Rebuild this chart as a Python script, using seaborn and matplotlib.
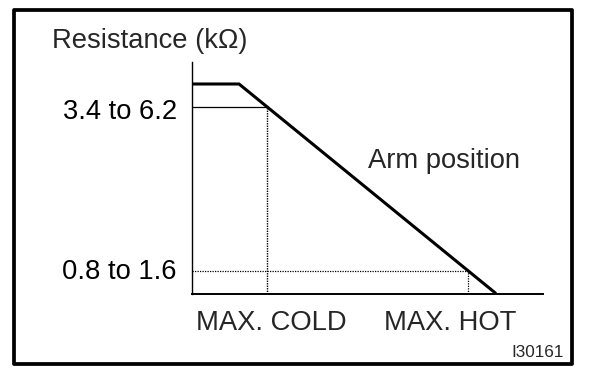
import matplotlib
matplotlib.use("Agg")
import numpy as np
import pandas as pd
import matplotlib.pyplot as plt
import seaborn as sns
from matplotlib.transforms import ScaledTranslation
from matplotlib.patches import Rectangle

# ---- data (normalised units) ----
arm_position = [0.0, 13.4, 86.6]          # arm position (0..100 along x axis)
resistance = [90.5, 90.5, 0.0]            # resistance (0..100 along y axis)
ref_positions = [21.4, 78.6]              # MAX. COLD, MAX. HOT
ref_resistance = [80.6, 9.9]              # resistance at those positions
ref_labels = ["3.4 to 6.2", "0.8 to 1.6"]
x_labels = ["MAX. COLD", "MAX. HOT"]
y_title = "Resistance (kΩ)"
curve_label = "Arm position"
figure_id = "I30161"

W, H = 608, 382
sns.set_style("white")
plt.rcParams["font.family"] = ["Liberation Sans", "DejaVu Sans"]

fig = plt.figure(figsize=(W / 100, H / 100), dpi=100)
ax = fig.add_axes([192 / W, 1 - 293.5 / H, (543 - 192) / W, (293.5 - 62) / H])
ax.set_xlim(0, 100)
ax.set_ylim(0, 100)

df = pd.DataFrame({"pos": arm_position, "res": resistance})
sns.lineplot(data=df, x="pos", y="res", ax=ax, color="black", lw=2.2,
             solid_joinstyle="miter", solid_capstyle="butt")

# reference lines
ax.hlines(ref_resistance[0], 0, ref_positions[0], color="black", lw=0.9)
ax.vlines(ref_positions[0], 0, ref_resistance[0], color="black", lw=1.0,
          linestyles=(0, (1, 0.8)))
ax.hlines(ref_resistance[1], 0, ref_positions[1], color="black", lw=0.9,
          linestyles=(0, (1, 1)))
ax.vlines(ref_positions[1], 0, ref_resistance[1], color="black", lw=0.9,
          linestyles=(0, (1, 1)))

# axes styling
for s in ["top", "right"]:
    ax.spines[s].set_visible(False)
ax.spines["left"].set_linewidth(1.0)
ax.spines["bottom"].set_linewidth(1.4)
ax.spines["left"].set_color("black")
ax.spines["bottom"].set_color("black")
ax.set_xlabel("")
ax.set_ylabel("")
ax.set_xticks([])
ax.set_yticks(ref_resistance, ref_labels, fontsize=19.7)
ax.tick_params(axis="y", length=0, pad=10.8, colors="black")
offsets = [-12.0, -8.5]
for lab, off in zip(ax.yaxis.get_major_ticks(), offsets):
    lab.label1.set_verticalalignment("baseline")
    lab.label1.set_transform(lab.label1.get_transform()
                             + ScaledTranslation(0, off / 100, fig.dpi_scale_trans))

# texts
fig.text(52 / W, 1 - 48 / H, y_title, fontsize=19.7, ha="left", va="baseline")
fig.text(368 / W, 1 - 168 / H, curve_label, fontsize=19.7, ha="left", va="baseline")
fig.text(196 / W, 1 - 330 / H, x_labels[0], fontsize=19.7, ha="left", va="baseline")
fig.text(384 / W, 1 - 330 / H, x_labels[1], fontsize=19.7, ha="left", va="baseline")
fig.text(564 / W, 1 - 357 / H, figure_id, fontsize=12.3, ha="right", va="baseline")

# frame
fig.patches.append(Rectangle((14 / W, 1 - 364 / H), (572 - 14) / W, (364 - 9.5) / H,
                             transform=fig.transFigure, fill=False,
                             edgecolor="black", lw=2.7, joinstyle="round"))

fig.savefig("out.png", dpi=100, facecolor="white")
